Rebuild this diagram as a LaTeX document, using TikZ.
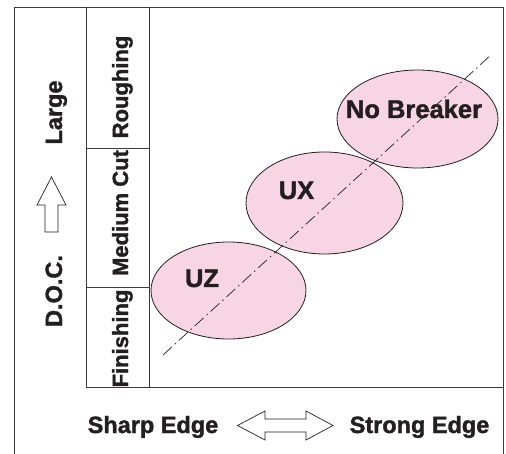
\documentclass[tikz,border=0pt]{standalone}
\usepackage{fontspec}
\setmainfont{Liberation Sans}[BoldFont={Liberation Sans Bold}, BoldFeatures={FakeBold=1.5}]
\usetikzlibrary{shapes.geometric}
\definecolor{ink}{HTML}{231F20}
\definecolor{linec}{HTML}{3A3A3A}
\definecolor{pinkfill}{HTML}{F7D5E4}
\tikzset{
  frame/.style={draw=linec, line width=0.9pt},
  lbl/.style={font=\fontsize{23.5}{26}\selectfont\bfseries, text=ink, inner sep=0pt},
  zlbl/.style={font=\fontsize{25.5}{28}\selectfont\bfseries, text=ink, inner sep=0pt, anchor=base},
  collbl/.style={font=\fontsize{22}{24}\selectfont\bfseries, text=ink, inner sep=0pt, rotate=90, anchor=base},
  zone/.style={ellipse, draw=ink, line width=0.8pt, fill=pinkfill, inner sep=0pt},
  hollow/.style={draw=ink, line width=0.7pt, fill=white},
  axis/.style={draw=ink, line width=0.7pt, dash pattern=on 12pt off 4pt on 1.5pt off 4pt}
}
\begin{document}
\begin{tikzpicture}[x=1pt,y=1pt]
\useasboundingbox (0,0) rectangle (506,-454);
% outer frame
\draw[frame] (14,-454) -- (14,-7) -- (503,-7) -- (503,-454);
% inner grid
\draw[frame] (86,-7) -- (86,-387) -- (503,-387);
\draw[frame] (149,-7) -- (149,-387);
\draw[frame] (86,-148) -- (149,-148);
\draw[frame] (86,-287) -- (149,-287);
% column labels
\node[collbl] (rough) at (128,-87) {Roughing};
\node[collbl] (med) at (128,-213) {Medium Cut};
\node[collbl] (fin) at (128,-338.5) {Finishing};
% D.O.C. axis
\node[lbl, rotate=90, anchor=base] (large) at (62,-112.5) {Large};
\node[lbl, rotate=90, anchor=base] (doc) at (62,-291) {D.O.C.};
\draw[hollow] (51.5,-177) -- (66,-205) -- (58,-205) -- (58,-232) -- (45,-232) -- (45,-205) -- (37,-205) -- cycle;
% zones
\node[zone, minimum width=155pt, minimum height=97pt] (uz) at (228.5,-290.5) {};
\node[zone, minimum width=157pt, minimum height=102pt] (ux) at (324.5,-203) {};
\node[zone, minimum width=161pt, minimum height=98pt] (nb) at (417.5,-119) {};
\coordinate (a0) at (163,-355);
\coordinate (a1) at (492,-54);
\draw[axis] (a0) -- (a1);
\node[zlbl] (uzt) at (202,-287) {UZ};
\node[zlbl] (uxt) at (296.5,-199) {UX};
\node[zlbl] (nbt) at (414,-118) {No Breaker};
% bottom axis
\node[lbl, anchor=base] (sharp) at (153,-433) {Sharp Edge};
\node[lbl, anchor=base] (strong) at (419.5,-433) {Strong Edge};
\draw[hollow] (237.5,-425.5) -- (265,-411) -- (265,-419) -- (306,-419) -- (306,-411) -- (333,-425.5) -- (306,-440) -- (306,-432) -- (265,-432) -- (265,-440) -- cycle;
\end{tikzpicture}
\end{document}
